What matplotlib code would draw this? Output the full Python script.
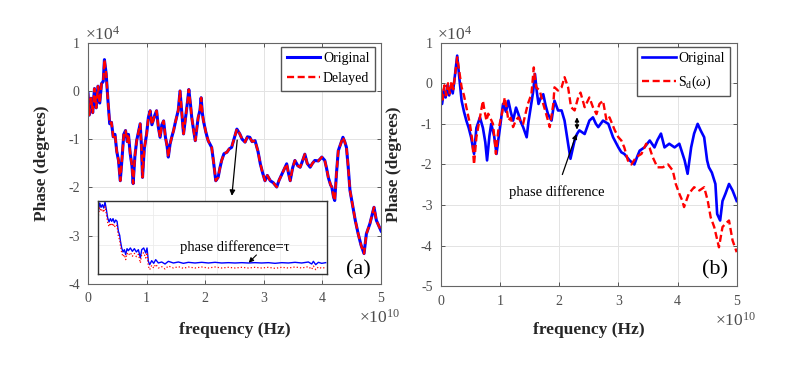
import matplotlib
matplotlib.use("Agg")
import matplotlib.pyplot as plt

plt.rcParams['font.family'] = ['Liberation Serif', 'DejaVu Serif']
plt.rcParams['mathtext.fontset'] = 'custom'
plt.rcParams['mathtext.rm'] = 'Liberation Serif'
plt.rcParams['mathtext.it'] = 'Liberation Serif:italic'
plt.rcParams['axes.unicode_minus'] = False

# panel (a): frequency in 1e10 Hz, phase in 1e4 degrees
freq_a = [0.00, 0.02, 0.05, 0.08, 0.11, 0.14, 0.17, 0.20, 0.23, 0.26, 0.28, 0.31, 0.34, 0.37, 0.40,
          0.43, 0.46, 0.49, 0.52, 0.55, 0.58, 0.61, 0.64, 0.67, 0.69, 0.72, 0.75, 0.77, 0.80, 0.83,
          0.86, 0.89, 0.91, 0.93, 0.96, 1.00, 1.03, 1.06, 1.09, 1.11, 1.14, 1.17, 1.20, 1.23, 1.26,
          1.29, 1.32, 1.35, 1.37, 1.40, 1.43, 1.46, 1.49, 1.51, 1.54, 1.57, 1.60, 1.63, 1.66, 1.68,
          1.70, 1.72, 1.75, 1.77, 1.80, 1.83, 1.86, 1.88, 1.91, 1.93, 1.95, 1.97, 2.01, 2.05, 2.08,
          2.11, 2.14, 2.18, 2.22, 2.25, 2.28, 2.32, 2.37, 2.41, 2.45, 2.49, 2.54, 2.57, 2.59, 2.63,
          2.68, 2.72, 2.76, 2.80, 2.85, 2.90, 2.94, 2.98, 3.02, 3.06, 3.11, 3.16, 3.22, 3.26, 3.31,
          3.35, 3.39, 3.42, 3.45, 3.49, 3.53, 3.58, 3.62, 3.66, 3.70, 3.74, 3.79, 3.83, 3.87, 3.93,
          3.99, 4.04, 4.07, 4.10, 4.14, 4.16, 4.19, 4.21, 4.24, 4.27, 4.31, 4.35, 4.38, 4.41, 4.44,
          4.47, 4.50, 4.56, 4.61, 4.66, 4.71, 4.75, 4.81, 4.88, 4.92, 4.97, 5.00]
phase_a = [-0.05, -0.50, -0.15, -0.45, 0.05, -0.35, 0.10, -0.25, 0.15, 0.20, 0.65, 0.35, -0.20, -0.68, -0.65,
           -0.95, -0.90, -1.25, -1.44, -1.86, -1.40, -0.90, -0.82, -1.05, -0.90, -1.30, -1.55, -1.92, -1.35, -1.03,
           -0.85, -0.68, -1.10, -1.79, -1.20, -0.89, -0.55, -0.41, -0.70, -0.62, -0.50, -0.41, -0.75, -0.96, -0.70,
           -0.62, -0.95, -1.15, -1.37, -1.10, -0.95, -0.82, -0.65, -0.55, -0.40, 0.00, -0.45, -0.89, -0.60, -0.41,
           -0.20, 0.03, -0.30, -0.55, -0.80, -1.03, -0.75, -0.55, -0.40, -0.14, -0.45, -0.62, -0.85, -1.03, -1.10,
           -1.17, -1.45, -1.86, -1.79, -1.60, -1.44, -1.30, -1.27, -1.20, -1.17, -1.00, -0.79, -0.85, -0.89, -1.00,
           -1.06, -0.95, -0.96, -1.05, -1.03, -1.25, -1.51, -1.70, -1.86, -1.75, -1.86, -1.90, -1.99, -1.85, -1.72,
           -1.62, -1.51, -1.70, -1.86, -1.60, -1.44, -1.55, -1.58, -1.45, -1.31, -1.50, -1.58, -1.50, -1.44, -1.45,
           -1.37, -1.44, -1.60, -1.79, -1.95, -1.99, -2.20, -2.27, -1.70, -1.24, -1.10, -0.96, -1.05, -1.17, -1.58,
           -2.06, -2.27, -2.68, -2.96, -3.20, -3.37, -2.96, -2.75, -2.41, -2.68, -2.82, -2.90]

# inset of panel (a): sample position and phase (arbitrary units)
inset_pos = [10, 14, 18, 22, 26, 30, 34, 38, 42, 46, 50, 54, 58, 62, 66, 70, 74, 76, 80, 84, 88, 92, 96,
             100, 106, 112, 118, 124, 130, 136, 140, 146, 152, 156, 160, 164, 170, 176, 182, 190, 200, 210,
             220, 235, 250, 265, 280, 300, 320, 340, 360, 380, 400, 420, 440, 460, 480, 500, 520, 540, 560,
             580, 600, 620, 640, 650, 655, 662, 670, 680, 692]
inset_orig = [-4.0, -1.5, -2.8, -2.0, -3.0, -1.2, -3.5, -6.0, -7.2, -6.2, -7.0, -6.2, -7.4, -6.6, -7.0,
              -10.0, -11.2, -12.8, -15.0, -16.2, -15.5, -17.0, -15.2, -15.8, -15.0, -16.0, -15.2, -16.2,
              -15.5, -18.0, -15.5, -15.0, -16.5, -15.0, -19.0, -20.0, -18.8, -19.6, -18.5, -19.5, -19.2,
              -19.8, -19.0, -19.5, -19.2, -19.6, -19.3, -19.5, -19.3, -19.5, -19.3, -19.5, -19.4, -19.5,
              -19.4, -19.5, -19.4, -19.5, -19.4, -19.6, -19.4, -19.5, -19.3, -19.5, -19.2, -19.8, -19.0,
              -20.0, -19.3, -19.6, -19.4]
inset_delay = [-5.2, -2.8, -4.0, -3.3, -4.3, -2.6, -4.8, -7.4, -8.6, -7.5, -8.4, -7.6, -8.8, -8.0, -8.4,
               -11.4, -12.6, -14.2, -16.4, -17.6, -17.0, -18.5, -16.6, -17.2, -16.4, -17.5, -16.6, -17.6,
               -16.9, -19.5, -16.9, -16.4, -18.0, -16.4, -20.5, -21.5, -20.2, -21.0, -19.9, -21.0, -20.6,
               -21.3, -20.4, -21.0, -20.6, -21.1, -20.7, -21.0, -20.7, -21.0, -20.7, -21.0, -20.8, -21.0,
               -20.8, -21.0, -20.8, -21.0, -20.8, -21.1, -20.8, -21.0, -20.7, -21.0, -20.6, -21.4, -20.4,
               -21.5, -20.7, -21.1, -20.8]

# panel (b)
freq_b_orig = [0.00, 0.02, 0.05, 0.08, 0.11, 0.14, 0.17, 0.20, 0.23, 0.275, 0.31, 0.35, 0.39, 0.43, 0.47,
               0.51, 0.56, 0.60, 0.66, 0.71, 0.75, 0.78, 0.82, 0.85, 0.90, 0.94, 0.97, 1.00, 1.05, 1.10,
               1.14, 1.18, 1.22, 1.27, 1.31, 1.35, 1.39, 1.45, 1.48, 1.51, 1.56, 1.59, 1.62, 1.65, 1.69,
               1.73, 1.77, 1.81, 1.87, 1.92, 1.98, 2.04, 2.09, 2.15, 2.19, 2.23, 2.26, 2.30, 2.34, 2.43,
               2.51, 2.57, 2.62, 2.66, 2.74, 2.83, 2.91, 3.00, 3.05, 3.10, 3.19, 3.27, 3.32, 3.36, 3.44,
               3.53, 3.61, 3.66, 3.72, 3.78, 3.86, 3.95, 4.03, 4.12, 4.17, 4.23, 4.28, 4.34, 4.39, 4.45,
               4.50, 4.53, 4.58, 4.64, 4.67, 4.72, 4.76, 4.81, 4.87, 4.93, 5.00]
phase_b_orig = [-0.18, -0.51, -0.20, -0.35, -0.05, -0.30, -0.05, -0.25, 0.10, 0.68, 0.15, -0.43, -0.70, -0.92, -1.10,
                -1.33, -1.74, -1.10, -0.84, -1.10, -1.45, -1.90, -1.30, -1.00, -1.30, -1.74, -1.40, -1.08, -0.51, -0.70,
                -0.43, -0.70, -0.92, -0.60, -0.76, -0.95, -1.08, -1.33, -0.95, -0.67, -0.20, 0.23, -0.20, -0.51, -0.35,
                -0.27, -0.55, -0.76, -0.92, -0.43, -0.67, -0.67, -0.92, -1.49, -1.86, -1.60, -1.41, -1.25, -1.16, -1.25,
                -0.92, -0.84, -1.00, -1.08, -0.92, -1.00, -1.33, -1.58, -1.70, -1.74, -1.90, -2.00, -1.80, -1.66, -1.58,
                -1.41, -1.58, -1.40, -1.24, -1.58, -1.49, -1.58, -1.49, -1.90, -2.23, -1.58, -1.24, -1.00, -1.16, -1.33,
                -1.90, -2.07, -2.20, -2.48, -3.22, -3.38, -2.90, -2.72, -2.48, -2.64, -2.90]
freq_b_sd = [0.00, 0.03, 0.06, 0.09, 0.12, 0.15, 0.18, 0.21, 0.24, 0.275, 0.31, 0.35, 0.39, 0.43, 0.49,
             0.53, 0.56, 0.60, 0.66, 0.71, 0.74, 0.77, 0.80, 0.83, 0.88, 0.93, 0.97, 1.03, 1.08, 1.11,
             1.14, 1.18, 1.22, 1.27, 1.31, 1.35, 1.39, 1.43, 1.47, 1.53, 1.57, 1.61, 1.67, 1.73, 1.78,
             1.84, 1.90, 1.92, 1.98, 2.04, 2.09, 2.15, 2.20, 2.26, 2.32, 2.36, 2.43, 2.51, 2.57, 2.63,
             2.68, 2.74, 2.80, 2.85, 2.94, 3.00, 3.05, 3.10, 3.16, 3.22, 3.30, 3.39, 3.47, 3.53, 3.58,
             3.66, 3.75, 3.84, 3.92, 3.97, 4.03, 4.08, 4.11, 4.19, 4.28, 4.37, 4.45, 4.51, 4.56, 4.62,
             4.70, 4.76, 4.81, 4.87, 4.93, 5.00]
phase_b_sd = [-0.10, -0.40, -0.05, -0.30, 0.00, -0.25, 0.05, -0.15, 0.20, 0.64, 0.30, -0.10, -0.30, -0.59, -1.00,
              -1.40, -2.00, -1.33, -0.84, -0.43, -0.70, -0.92, -0.75, -0.84, -1.00, -1.74, -1.16, -0.76, -0.35, -0.60,
              -0.92, -0.85, -1.08, -0.90, -0.84, -0.95, -1.00, -0.75, -0.51, -0.27, 0.39, -0.10, -0.18, -0.51, -0.76,
              -1.08, -0.51, -0.10, -0.18, -0.10, 0.15, -0.10, -0.59, -0.67, -0.35, -0.23, -0.59, -0.35, -0.59, -0.76,
              -0.51, -0.43, -0.92, -0.84, -1.16, -1.33, -1.41, -1.58, -1.90, -2.00, -1.82, -1.74, -1.49, -1.60, -1.82,
              -2.07, -2.07, -2.00, -2.15, -2.48, -2.72, -2.89, -3.05, -2.72, -2.56, -2.64, -2.56, -2.89, -3.30, -3.54,
              -4.04, -3.54, -3.46, -3.38, -3.87, -4.16]

x_ticks = [0, 1, 2, 3, 4, 5]
y_ticks_a = [-4, -3, -2, -1, 0, 1]
y_ticks_b = [-5, -4, -3, -2, -1, 0, 1]

BLUE = '#0000ff'
RED = '#ff0000'
TICK_COLOR = '#4d4d4d'


def style_axes(ax, yticks):
    ax.set_xlim(0, 5)
    ax.set_ylim(yticks[0], yticks[-1])
    ax.set_xticks(x_ticks)
    ax.set_yticks(yticks)
    ax.set_xticklabels([str(t) for t in x_ticks])
    ax.set_yticklabels([str(t) for t in yticks])
    ax.grid(True, color='#e3e3e3', linewidth=0.7)
    ax.set_axisbelow(True)
    ax.tick_params(direction='in', length=3, width=0.7, colors='#555555',
                   labelcolor=TICK_COLOR, labelsize=10, pad=6,
                   top=True, right=True)
    for s in ax.spines.values():
        s.set_color('#666666')
        s.set_linewidth(0.8)
    ax.set_xlabel('frequency (Hz)', fontsize=12.5, fontweight='bold', color='#262626')
    ax.set_ylabel('Phase (degrees)', fontsize=12.5, fontweight='bold', color='#262626')
    ax.text(-0.012, 1.012, r'$\times 10^{4}$', transform=ax.transAxes, fontsize=12.5,
            color=TICK_COLOR, ha='left', va='baseline')
    ax.text(0.925, -0.162, r'$\times 10^{10}$', transform=ax.transAxes, fontsize=12.5,
            color=TICK_COLOR, ha='left', va='baseline')


fig = plt.figure(figsize=(7.93, 3.76), dpi=100)

# (a)
ax1 = fig.add_axes([0.111, 0.2447, 0.3695, 0.6417])
ax1.plot(freq_a, phase_a, color=BLUE, lw=2.2, label='Original')
ax1.plot(freq_a, phase_a, color=RED, lw=1.7, ls=(0, (3, 1.5)), label='Delayed')
style_axes(ax1, y_ticks_a)
ax1.yaxis.set_label_coords(-0.13, 0.5)
ax1.xaxis.set_label_coords(0.5, -0.156)
ax1.legend(loc='upper right', bbox_to_anchor=(1 - 6 / 293, 1 - 4 / 241.3), borderaxespad=0,
           fontsize=10, fancybox=False, edgecolor='#555555', framealpha=1,
           handlelength=2.4, borderpad=0.4, labelspacing=0.5, handletextpad=0.2)
ax1.annotate('', xy=(2.45, -2.23), xytext=(2.55, -0.96),
             arrowprops=dict(arrowstyle='-|>', color='black', lw=0.9, mutation_scale=8))
ax1.text(0.921, 0.058, '(a)', transform=ax1.transAxes, fontsize=16, ha='center', va='center')

axin = fig.add_axes([0.1232, 0.2713, 0.2888, 0.195])
axin.plot(inset_pos, inset_orig, color=BLUE, lw=1.0)
axin.plot(inset_pos, inset_delay, color=RED, lw=0.9, ls=':')
axin.set_xlim(8, 695)
axin.set_ylim(-22.8, -0.8)
axin.set_xticks([175, 365, 555])
axin.set_yticks([-14.0, -5.0])
axin.tick_params(length=0, labelbottom=False, labelleft=False)
axin.grid(True, color='#ececec', linewidth=0.6)
for s in axin.spines.values():
    s.set_color('#333333')
    s.set_linewidth(1.0)
axin.text(420, -14.6, 'phase difference=\u03c4', fontsize=10.5, ha='center', va='center')
axin.annotate('', xy=(455, -20.0), xytext=(490, -16.5),
              arrowprops=dict(arrowstyle='-|>', color='black', lw=0.8, mutation_scale=7))

# (b)
ax2 = fig.add_axes([0.556, 0.2386, 0.373, 0.648])
ax2.plot(freq_b_orig, phase_b_orig, color=BLUE, lw=1.9, label='Original')
ax2.plot(freq_b_sd, phase_b_sd, color=RED, lw=1.7, ls=(0, (3, 1.5)), label=r'S$_\mathrm{d}$($\omega$)')
style_axes(ax2, y_ticks_b)
ax2.yaxis.set_label_coords(-0.133, 0.5)
ax2.xaxis.set_label_coords(0.5, -0.145)
ax2.legend(loc='upper right', bbox_to_anchor=(1 - 6.3 / 296, 1 - 4 / 243.6), borderaxespad=0,
           fontsize=10, fancybox=False, edgecolor='#555555', framealpha=1,
           handlelength=2.4, borderpad=0.4, labelspacing=0.6, handletextpad=0.2)
ax2.annotate('', xy=(2.30, -0.77), xytext=(2.30, -1.21),
             arrowprops=dict(arrowstyle='<|-|>', color='black', lw=0.9, mutation_scale=6))
ax2.annotate('phase difference', xy=(2.29, -1.25), xytext=(1.95, -2.68),
             fontsize=10.5, ha='center', va='center',
             arrowprops=dict(arrowstyle='-|>', color='black', lw=0.9, mutation_scale=7,
                             shrinkA=6, shrinkB=0))
ax2.text(0.926, 0.067, '(b)', transform=ax2.transAxes, fontsize=16, ha='center', va='center')

fig.savefig('out.png', dpi=100)
